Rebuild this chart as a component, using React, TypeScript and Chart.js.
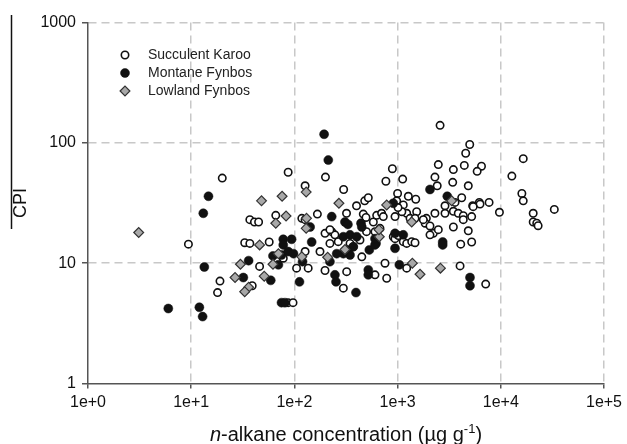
import React, { useEffect, useRef } from "react";
import { Chart, registerables } from "chart.js";

Chart.register(...registerables);

const FONT = '"Liberation Sans", Arial, Helvetica, sans-serif';

const X_TICKS = [1, 10, 100, 1000, 10000, 100000];
const X_TICK_LABELS = ["1e+0", "1e+1", "1e+2", "1e+3", "1e+4", "1e+5"];
const Y_TICKS = [1, 10, 100, 1000];
const Y_TICK_LABELS = ["1", "10", "100", "1000"];

const SERIES_NAMES = ["Succulent Karoo", "Montane Fynbos", "Lowland Fynbos"];
const Y_TITLE = "CPI";
const X_TITLE_ITALIC = "n";
const X_TITLE_MAIN = "-alkane concentration (\u00B5g g";
const X_TITLE_SUP = "-1";
const X_TITLE_END = ")";

// Succulent Karoo (open circles)
const skX = [20, 9.4, 19, 18, 37, 41, 45, 33, 37, 39, 46, 87, 200, 127, 300, 400, 480, 520, 890, 770,
  1120, 1000, 1270, 1500, 980, 2580, 5000, 4570, 2480, 4430, 3470, 6500, 5900, 2300, 3420, 2420, 4840, 4180, 2880, 6190,
  7700, 5340, 16500, 12800, 16000, 16500, 9700, 20600, 33000, 20600, 22300, 23000, 6290, 3600, 2300, 1900, 1850, 2060, 2220, 2480,
  2880, 3470, 3870, 4330, 5220, 4330, 3470, 4840, 4090, 5220, 4030, 7140, 5400, 66, 118, 127, 167, 320, 465, 494,
  582, 627, 700, 727, 1135, 1225, 944, 1320, 1530, 1475, 1775, 57, 198, 230, 247, 221, 266, 346, 372, 432,
  500, 604, 675, 908, 1135, 1225, 1370, 1475, 127, 78, 177, 198, 450, 755, 1225, 784, 604, 321, 298, 105,
  136, 87, 97, 221, 1100, 2060, 944, 1016, 1010];
const skY = [51, 14.4, 7.1, 5.7, 23, 22, 22, 14.8, 14.6, 6.5, 9.4, 57, 52, 44, 41, 30, 33, 35, 61, 48,
  50, 38, 36, 34, 33, 140, 97, 82, 66, 65, 60, 64, 58, 52, 47, 44, 44, 35, 30, 32,
  32, 30, 74, 53, 38, 33, 26.5, 26, 28, 22, 21.5, 20.5, 31, 32, 26, 23.6, 21.5, 20.4, 17.7, 19,
  26, 27, 26, 24.8, 24.4, 23, 20, 18.6, 14.4, 15, 9.5, 6.7, 29.5, 25, 23.6, 23, 25.6, 26, 25.6, 24,
  22, 25, 26, 24.4, 30.5, 26, 24.4, 23.6, 26.8, 23.6, 23, 15, 17.7, 18.3, 17.2, 14.6, 15.1, 14.6, 13.7, 15.6,
  18.3, 18.3, 19.5, 16.6, 15.1, 14.6, 15.1, 14.8, 12.5, 11, 12.5, 8.7, 11.3, 10, 9.1, 7.5, 8, 8.5, 6.2, 9.1,
  9.1, 4.7, 4.7, 19, 26.8, 17.2, 16, 17, 29];

// Montane Fynbos (filled circles)
const mfX = [14.7, 13.1, 13.4, 36, 32, 6, 12, 12.9, 194, 213, 2060, 908, 3030, 2735, 2735, 5030, 5030, 142, 230, 309,
  330, 442, 450, 78, 94, 78, 147, 298, 346, 402, 618, 944, 1135, 75, 62, 87, 98, 120, 70, 221,
  333, 372, 298, 346, 532, 604, 1040, 520, 520, 247, 253, 395, 112, 59, 75, 81, 604, 944, 257];
const mfY = [36, 26, 9.3, 10.5, 7.6, 4.2, 4.3, 3.6, 118, 72, 41, 31.5, 36, 15, 14.2, 7.6, 6.5, 20, 24.4, 22,
  21, 21.5, 20, 15.8, 15.8, 14.2, 15, 16.6, 17.2, 16.6, 14.6, 17.7, 17.2, 11.7, 11.5, 12.5, 12, 10.3, 9.7, 10.3,
  12.9, 13.7, 12, 11.7, 12.9, 14.2, 9.7, 8.8, 8, 8, 7, 5.7, 7, 7.2, 4.7, 4.7, 16, 13.3, 12];

// Lowland Fynbos (grey diamonds)
const lfX = [3.1, 30, 26.6, 36, 33, 48, 46, 76, 130, 270, 784, 3340, 66, 83, 131, 130, 1370, 70, 118, 62,
  210, 309, 665, 660, 1390, 1650, 51, 2600];
const lfY = [18, 9.8, 7.6, 6.3, 5.8, 33, 14.2, 36, 39, 31.5, 30.5, 33, 21.5, 24.7, 23.6, 19.5, 22, 12, 11.3, 9.8,
  11.2, 13, 16.6, 19, 10, 8.1, 7.8, 9.1];

const toPoints = (xs: number[], ys: number[]) => xs.map((x, i) => ({ x, y: ys[i] }));

const GRID_COLOR = "#c8c8c8";
const AXIS_COLOR = "#555555";

function drawSymbol(ctx: CanvasRenderingContext2D, ds: any, x: number, y: number) {
  const r = ds.pointRadius;
  ctx.save();
  ctx.beginPath();
  if (ds.pointStyle === "rectRot") {
    ctx.moveTo(x - r, y);
    ctx.lineTo(x, y - r);
    ctx.lineTo(x + r, y);
    ctx.lineTo(x, y + r);
    ctx.closePath();
  } else {
    ctx.arc(x, y, r, 0, Math.PI * 2);
  }
  ctx.fillStyle = ds.pointBackgroundColor;
  ctx.fill();
  if (ds.pointBorderWidth) {
    ctx.lineWidth = ds.pointBorderWidth;
    ctx.strokeStyle = ds.pointBorderColor;
    ctx.stroke();
  }
  ctx.restore();
}

const decorPlugin = {
  id: "decor",
  afterDraw(chart: any) {
    const ctx: CanvasRenderingContext2D = chart.ctx;
    const area = chart.chartArea;
    // legend
    [0, 1, 2].forEach((di, row) => {
      const ds = chart.data.datasets[di];
      const cy = area.top + 32.4 + row * 18;
      drawSymbol(ctx, ds, area.left + 37, cy);
      ctx.save();
      ctx.fillStyle = "#222";
      ctx.font = `14px ${FONT}`;
      ctx.textBaseline = "middle";
      ctx.textAlign = "left";
      ctx.fillText(ds.label, area.left + 60, cy + 0.5);
      ctx.restore();
    });
    // x axis title with italic and superscript parts
    ctx.save();
    const fMain = `20px ${FONT}`;
    const fIt = `italic 20px ${FONT}`;
    const fSup = `13px ${FONT}`;
    ctx.textBaseline = "alphabetic";
    ctx.textAlign = "left";
    ctx.font = fIt;
    const w1 = ctx.measureText(X_TITLE_ITALIC).width;
    ctx.font = fMain;
    const w2 = ctx.measureText(X_TITLE_MAIN).width;
    const w4 = ctx.measureText(X_TITLE_END).width;
    ctx.font = fSup;
    const w3 = ctx.measureText(X_TITLE_SUP).width;
    const total = w1 + w2 + w3 + w4;
    let x = (area.left + area.right) / 2 - total / 2;
    const base = area.bottom + 57;
    ctx.fillStyle = "#111";
    ctx.font = fIt;
    ctx.fillText(X_TITLE_ITALIC, x, base);
    x += w1;
    ctx.font = fMain;
    ctx.fillText(X_TITLE_MAIN, x, base);
    x += w2;
    ctx.font = fSup;
    ctx.fillText(X_TITLE_SUP, x, base - 8);
    x += w3;
    ctx.font = fMain;
    ctx.fillText(X_TITLE_END, x, base);
    ctx.restore();
    // vertical rule beside the y title
    ctx.save();
    ctx.strokeStyle = "#111";
    ctx.lineWidth = 1.5;
    ctx.beginPath();
    ctx.moveTo(11.5, 15);
    ctx.lineTo(11.5, 229);
    ctx.stroke();
    ctx.restore();
  },
};

export default function App() {
  const ref = useRef<HTMLCanvasElement | null>(null);

  useEffect(() => {
    if (!ref.current) return;
    const gridColor = (c: any) => (c.tick && c.tick.value === 1 ? "rgba(0,0,0,0)" : GRID_COLOR);
    const chart = new Chart(ref.current, {
      type: "scatter",
      data: {
        datasets: [
          {
            label: SERIES_NAMES[0],
            data: toPoints(skX, skY),
            pointStyle: "circle",
            pointRadius: 3.7,
            pointBackgroundColor: "#ffffff",
            pointBorderColor: "#111111",
            pointBorderWidth: 1.6,
            order: 3,
          },
          {
            label: SERIES_NAMES[1],
            data: toPoints(mfX, mfY),
            pointStyle: "circle",
            pointRadius: 4.5,
            pointBackgroundColor: "#111111",
            pointBorderColor: "#111111",
            pointBorderWidth: 0.5,
            order: 2,
          },
          {
            label: SERIES_NAMES[2],
            data: toPoints(lfX, lfY),
            pointStyle: "rectRot",
            pointRadius: 4.9,
            pointBackgroundColor: "#a8a8a8",
            pointBorderColor: "#333333",
            pointBorderWidth: 1.2,
            order: 1,
          },
        ] as any,
      },
      options: {
        animation: false,
        responsive: false,
        maintainAspectRatio: false,
        devicePixelRatio: 1,
        layout: { padding: { top: 22.6, right: 23, left: 0, bottom: 0 } },
        plugins: { legend: { display: false }, tooltip: { enabled: false } },
        events: [],
        scales: {
          x: {
            type: "logarithmic",
            position: "bottom",
            min: 1,
            max: 100000,
            afterBuildTicks: (s: any) => {
              s.ticks = X_TICKS.map((v) => ({ value: v }));
            },
            afterFit: (s: any) => {
              s.height = 60.5;
            },
            ticks: {
              autoSkip: false,
              maxRotation: 0,
              padding: 4,
              color: "#111",
              font: { family: FONT, size: 16 },
              callback: (_v: any, i: number) => X_TICK_LABELS[i],
            },
            grid: {
              color: gridColor,
              lineWidth: 1.5,
              tickColor: AXIS_COLOR,
              tickLength: 5,
              tickWidth: 1.5,
            },
            border: { display: true, color: AXIS_COLOR, width: 1.5, dash: [8, 5] },
          },
          y: {
            type: "logarithmic",
            position: "left",
            min: 1,
            max: 1000,
            afterBuildTicks: (s: any) => {
              s.ticks = Y_TICKS.map((v) => ({ value: v }));
            },
            afterFit: (s: any) => {
              s.width = 88;
            },
            ticks: {
              autoSkip: false,
              padding: 6,
              color: "#111",
              font: { family: FONT, size: 16 },
              callback: (_v: any, i: number) => Y_TICK_LABELS[i],
            },
            grid: {
              color: gridColor,
              lineWidth: 1.5,
              tickColor: AXIS_COLOR,
              tickLength: 6,
              tickWidth: 1.5,
            },
            border: { display: true, color: AXIS_COLOR, width: 1.5, dash: [8, 5] },
            title: {
              display: true,
              text: Y_TITLE,
              color: "#111",
              font: { family: FONT, size: 18 },
              padding: { top: 10.5, bottom: 0 },
            },
          },
        },
      } as any,
      plugins: [decorPlugin],
    });
    return () => chart.destroy();
  }, []);

  return (
    <div style={{ position: "fixed", left: 0, top: 0, width: 627, height: 444, background: "#fff" }}>
      <canvas ref={ref} width={627} height={444} style={{ width: 627, height: 444, display: "block" }} />
    </div>
  );
}
